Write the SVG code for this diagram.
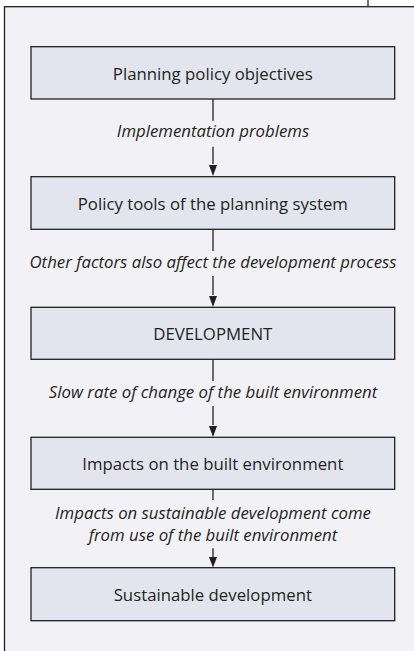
<svg xmlns="http://www.w3.org/2000/svg" width="414" height="651" viewBox="0 0 414 651">
<defs>
<style>
.frame{fill:#f2f2f6;stroke:#231f20;stroke-width:1.3}
.box rect{fill:#e2e5ee;stroke:#231f20;stroke-width:1.3}
.box text{font-family:"Open Sans","Liberation Sans",sans-serif;font-size:16.8px;fill:#231f20;text-anchor:middle}
.lbl{font-family:"Open Sans","Liberation Sans",sans-serif;font-size:16.8px;font-style:italic;fill:#231f20;text-anchor:middle}
.conn line{stroke:#231f20;stroke-width:1.3}
.conn path{fill:#231f20}
</style>
</defs>
<line x1="368" y1="0" x2="368" y2="7" stroke="#231f20" stroke-width="1.3"/>
<rect class="frame" x="4.5" y="6.7" width="430" height="660"/>
<g id="connectors" class="conn">
<line x1="213" y1="99" x2="213" y2="120.7"/>
<line x1="213" y1="146.7" x2="213" y2="164"/>
<path d="M209,165 L217,165 L213,176 Z"/>
<line x1="213" y1="229.3" x2="213" y2="251"/>
<line x1="213" y1="276" x2="213" y2="295"/>
<path d="M209,296 L217,296 L213,307 Z"/>
<line x1="213" y1="359.3" x2="213" y2="381"/>
<line x1="213" y1="406" x2="213" y2="425"/>
<path d="M209,426 L217,426 L213,437 Z"/>
<line x1="213" y1="489.3" x2="213" y2="500"/>
<line x1="213" y1="548.3" x2="213" y2="557"/>
<path d="M209,557 L217,557 L213,567.5 Z"/>
<text class="lbl" x="213" y="137.3">Implementation problems</text>
<text class="lbl" x="213" y="268.3">Other factors also affect the development process</text>
<text class="lbl" x="213" y="398.3">Slow rate of change of the built environment</text>
<text class="lbl" x="213" y="519.3">Impacts on sustainable development come</text>
<text class="lbl" x="213" y="541">from use of the built environment</text>
</g>
<g id="n1" class="box"><rect x="31" y="46.7" width="363.7" height="52.3"/><text x="212.8" y="79.5">Planning policy objectives</text></g>
<g id="n2" class="box"><rect x="31" y="176.7" width="363.7" height="52.6"/><text x="212.8" y="209.5">Policy tools of the planning system</text></g>
<g id="n3" class="box"><rect x="31" y="307.3" width="363.7" height="52"/><text x="212.8" y="339.8">DEVELOPMENT</text></g>
<g id="n4" class="box"><rect x="31" y="437.3" width="363.7" height="52"/><text x="212.8" y="469.8">Impacts on the built environment</text></g>
<g id="n5" class="box"><rect x="31" y="567.7" width="363.7" height="53"/><text x="212.8" y="600.5">Sustainable development</text></g>
</svg>
